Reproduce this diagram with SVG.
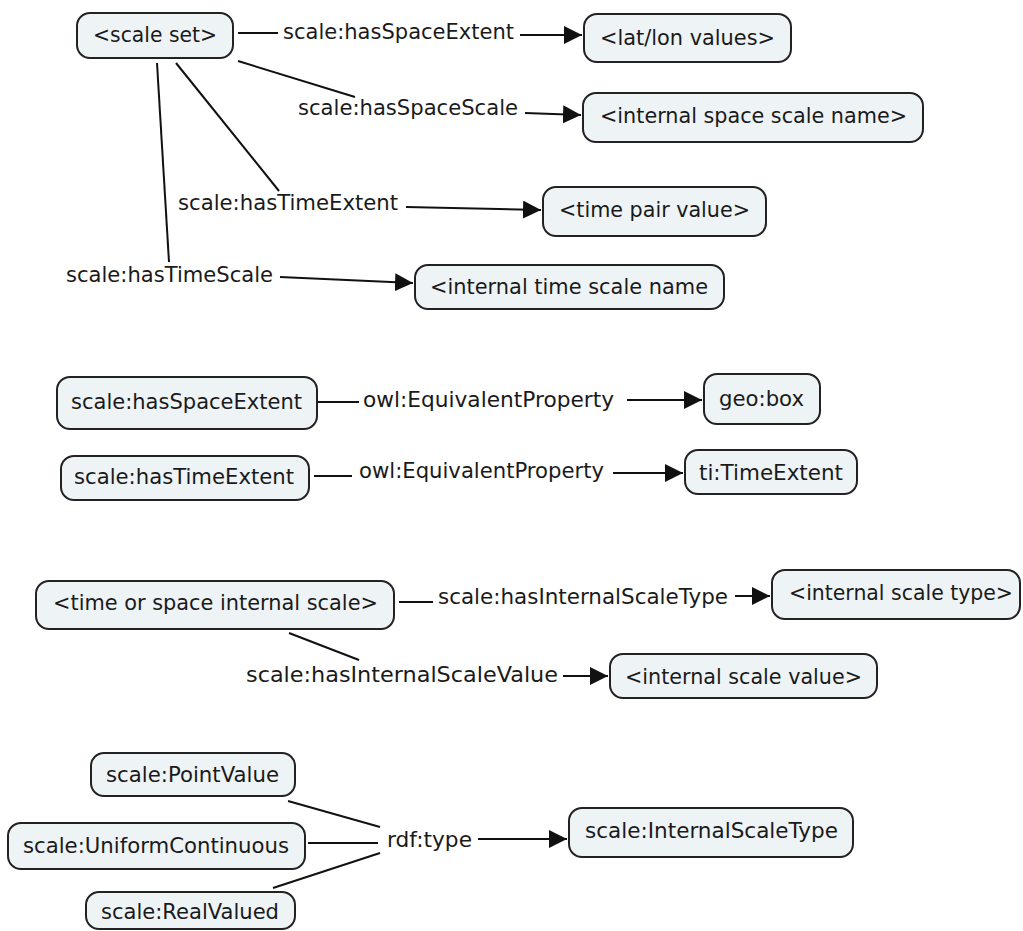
<svg xmlns="http://www.w3.org/2000/svg" width="1023" height="931" viewBox="0 0 1023 931">
  <defs>
    <marker id="arrow" markerUnits="userSpaceOnUse" markerWidth="20" markerHeight="20" refX="18" refY="9" orient="auto">
      <path d="M0,0 L18,9 L0,18 z" fill="#111"/>
    </marker>
    <style>
      .box { fill: #eef3f6; stroke: #222; stroke-width: 2; }
      .lbl { font-family: "DejaVu Sans", Verdana, sans-serif; font-size: 21px; fill: #1a1a1a; dominant-baseline: central; }
      .edge { stroke: #111; stroke-width: 2; fill: none; }
      .arr { marker-end: url(#arrow); }
    </style>
  </defs>
  <rect width="1023" height="931" fill="#ffffff"/>

  <!-- connectors and link phrases -->
  <g id="connectors">
    <!-- scale set relations -->
    <line class="edge" x1="238" y1="33" x2="278" y2="33"/>
    <text class="lbl" x="283" y="32" textLength="231" lengthAdjust="spacingAndGlyphs">scale:hasSpaceExtent</text>
    <line class="edge arr" x1="520" y1="35" x2="582" y2="35"/>

    <line class="edge" x1="238" y1="61" x2="355" y2="97"/>
    <text class="lbl" x="298" y="108" textLength="220" lengthAdjust="spacingAndGlyphs">scale:hasSpaceScale</text>
    <line class="edge arr" x1="525" y1="113" x2="581" y2="115"/>

    <line class="edge" x1="176" y1="63" x2="279" y2="191"/>
    <text class="lbl" x="178" y="203" textLength="220" lengthAdjust="spacingAndGlyphs">scale:hasTimeExtent</text>
    <line class="edge arr" x1="406" y1="207" x2="541" y2="210"/>

    <line class="edge" x1="157" y1="63" x2="169" y2="262"/>
    <text class="lbl" x="66" y="275" textLength="207" lengthAdjust="spacingAndGlyphs">scale:hasTimeScale</text>
    <line class="edge arr" x1="280" y1="277" x2="413" y2="283"/>

    <!-- equivalences -->
    <line class="edge" x1="318" y1="402" x2="359" y2="402"/>
    <text class="lbl" x="363" y="400" textLength="251" lengthAdjust="spacingAndGlyphs">owl:EquivalentProperty</text>
    <line class="edge arr" x1="627" y1="400" x2="702" y2="400"/>

    <line class="edge" x1="314" y1="476" x2="352" y2="476"/>
    <text class="lbl" x="359" y="471" textLength="245" lengthAdjust="spacingAndGlyphs">owl:EquivalentProperty</text>
    <line class="edge arr" x1="613" y1="473" x2="683" y2="473"/>

    <!-- internal scale relations -->
    <line class="edge" x1="399" y1="602" x2="433" y2="602"/>
    <text class="lbl" x="438" y="597" textLength="290" lengthAdjust="spacingAndGlyphs">scale:hasInternalScaleType</text>
    <line class="edge arr" x1="735" y1="596" x2="770" y2="596"/>

    <line class="edge" x1="289" y1="633" x2="359" y2="660"/>
    <text class="lbl" x="246" y="675" textLength="312" lengthAdjust="spacingAndGlyphs">scale:hasInternalScaleValue</text>
    <line class="edge arr" x1="563" y1="676" x2="608" y2="676"/>

    <!-- type membership -->
    <line class="edge" x1="288" y1="801" x2="380" y2="827"/>
    <line class="edge" x1="308" y1="843" x2="378" y2="843"/>
    <line class="edge" x1="273" y1="888" x2="380" y2="853"/>
    <text class="lbl" x="387" y="840" textLength="85" lengthAdjust="spacingAndGlyphs">rdf:type</text>
    <line class="edge arr" x1="478" y1="839" x2="567" y2="839"/>
  </g>

  <g id="scale-set">
    <rect class="box" x="77" y="13" width="156" height="45" rx="13"/>
    <text class="lbl" x="93" y="35" textLength="124" lengthAdjust="spacingAndGlyphs">&lt;scale set&gt;</text>
  </g>
  <g id="lat-lon-values">
    <rect class="box" x="584" y="14" width="207" height="48" rx="13"/>
    <text class="lbl" x="600" y="38" textLength="175" lengthAdjust="spacingAndGlyphs">&lt;lat/lon values&gt;</text>
  </g>
  <g id="internal-space-scale-name">
    <rect class="box" x="583" y="93" width="340" height="49" rx="13"/>
    <text class="lbl" x="600" y="116" textLength="307" lengthAdjust="spacingAndGlyphs">&lt;internal space scale name&gt;</text>
  </g>
  <g id="time-pair-value">
    <rect class="box" x="543" y="187" width="223" height="49" rx="13"/>
    <text class="lbl" x="559" y="210" textLength="191" lengthAdjust="spacingAndGlyphs">&lt;time pair value&gt;</text>
  </g>
  <g id="internal-time-scale-name">
    <rect class="box" x="415" y="265" width="309" height="44" rx="13"/>
    <text class="lbl" x="430" y="287" textLength="278" lengthAdjust="spacingAndGlyphs">&lt;internal time scale name</text>
  </g>

  <g id="has-space-extent">
    <rect class="box" x="57" y="377" width="260" height="52" rx="13"/>
    <text class="lbl" x="71" y="402" textLength="231" lengthAdjust="spacingAndGlyphs">scale:hasSpaceExtent</text>
  </g>
  <g id="geo-box">
    <rect class="box" x="704" y="374" width="116" height="50" rx="13"/>
    <text class="lbl" x="719" y="399" textLength="85" lengthAdjust="spacingAndGlyphs">geo:box</text>
  </g>
  <g id="has-time-extent">
    <rect class="box" x="61" y="456" width="248" height="44" rx="13"/>
    <text class="lbl" x="74" y="477" textLength="220" lengthAdjust="spacingAndGlyphs">scale:hasTimeExtent</text>
  </g>
  <g id="ti-time-extent">
    <rect class="box" x="685" y="450" width="172" height="44" rx="13"/>
    <text class="lbl" x="699" y="473" textLength="144" lengthAdjust="spacingAndGlyphs">ti:TimeExtent</text>
  </g>

  <g id="time-or-space-internal-scale">
    <rect class="box" x="36" y="581" width="358" height="48" rx="13"/>
    <text class="lbl" x="53" y="603" textLength="325" lengthAdjust="spacingAndGlyphs">&lt;time or space internal scale&gt;</text>
  </g>
  <g id="internal-scale-type">
    <rect class="box" x="772" y="570" width="248" height="49" rx="13"/>
    <text class="lbl" x="789" y="593" textLength="224" lengthAdjust="spacingAndGlyphs">&lt;internal scale type&gt;</text>
  </g>
  <g id="internal-scale-value">
    <rect class="box" x="610" y="654" width="267" height="44" rx="13"/>
    <text class="lbl" x="625" y="677" textLength="237" lengthAdjust="spacingAndGlyphs">&lt;internal scale value&gt;</text>
  </g>

  <g id="point-value">
    <rect class="box" x="91" y="753" width="204" height="43" rx="13"/>
    <text class="lbl" x="106" y="775" textLength="173" lengthAdjust="spacingAndGlyphs">scale:PointValue</text>
  </g>
  <g id="uniform-continuous">
    <rect class="box" x="8" y="823" width="297" height="46" rx="13"/>
    <text class="lbl" x="23" y="846" textLength="266" lengthAdjust="spacingAndGlyphs">scale:UniformContinuous</text>
  </g>
  <g id="real-valued">
    <rect class="box" x="86" y="892" width="209" height="37" rx="13"/>
    <text class="lbl" x="101" y="912" textLength="178" lengthAdjust="spacingAndGlyphs">scale:RealValued</text>
  </g>
  <g id="internal-scale-type-class">
    <rect class="box" x="569" y="808" width="284" height="49" rx="13"/>
    <text class="lbl" x="585" y="831" textLength="253" lengthAdjust="spacingAndGlyphs">scale:InternalScaleType</text>
  </g>
</svg>
